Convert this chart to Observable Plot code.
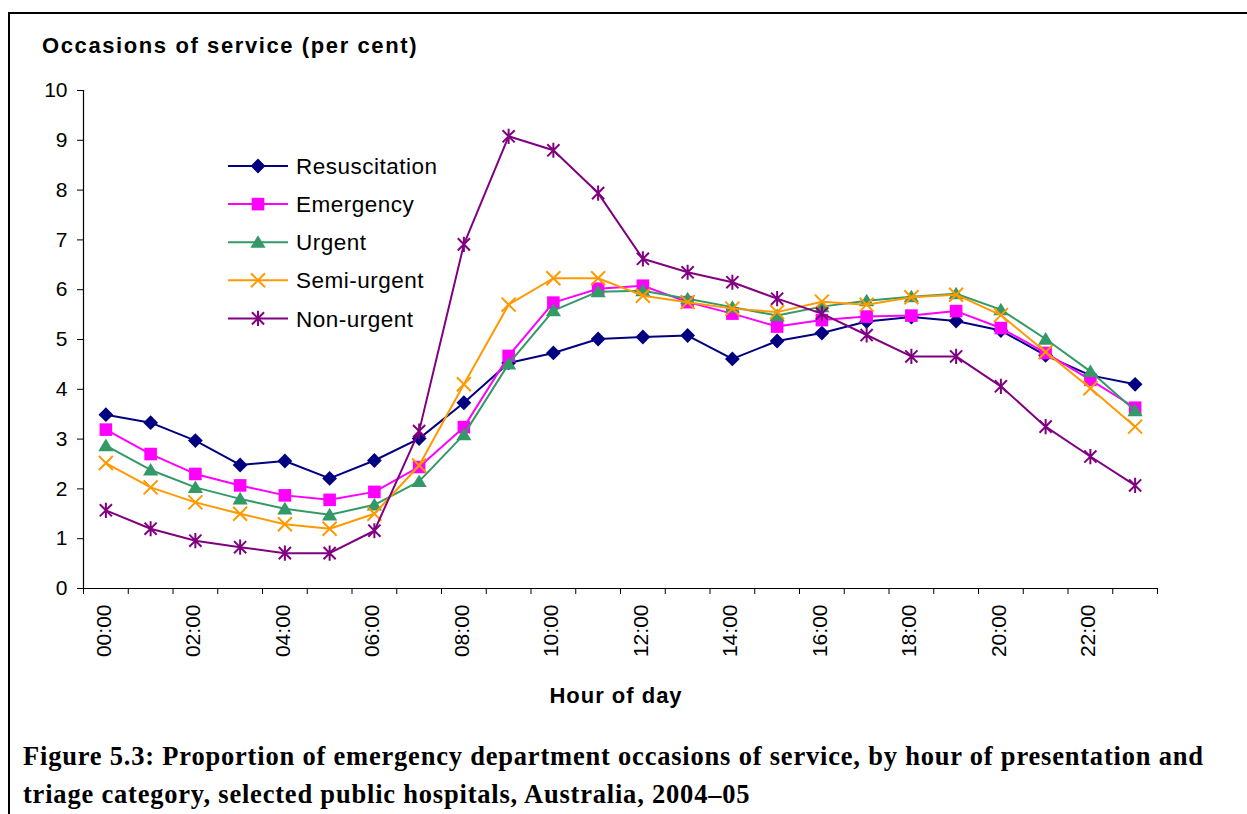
<!DOCTYPE html>
<html><head><meta charset="utf-8">
<script src="https://cdn.jsdelivr.net/npm/d3@7"></script>
<script src="https://cdn.jsdelivr.net/npm/@observablehq/plot@0.6"></script>
<style>
html,body{margin:0;padding:0;background:#fff;}
#wrap{position:relative;width:1247px;height:814px;overflow:hidden;font-family:"Liberation Sans",Arial,sans-serif;}
#chart{position:absolute;left:0;top:0;}
.ov{position:absolute;left:0;top:0;pointer-events:none;}
</style></head><body><div id="wrap"><div id="chart"></div></div>
<script>
// ---- data ----
const hours = ["00:00","01:00","02:00","03:00","04:00","05:00","06:00","07:00","08:00","09:00","10:00","11:00",
               "12:00","13:00","14:00","15:00","16:00","17:00","18:00","19:00","20:00","21:00","22:00","23:00"];
const seriesNames = ["Resuscitation","Emergency","Urgent","Semi-urgent","Non-urgent"];
const resuscitation = [3.49,3.33,2.97,2.48,2.56,2.21,2.57,3.01,3.73,4.53,4.73,5.01,5.05,5.08,4.61,4.97,5.13,5.36,5.45,5.37,5.18,4.68,4.28,4.10];
const emergency     = [3.19,2.70,2.30,2.07,1.87,1.78,1.94,2.44,3.24,4.67,5.74,6.02,6.08,5.75,5.52,5.26,5.39,5.46,5.48,5.57,5.23,4.73,4.19,3.63];
const urgent        = [2.87,2.38,2.03,1.80,1.60,1.48,1.68,2.15,3.09,4.51,5.58,5.96,5.98,5.82,5.65,5.48,5.66,5.78,5.86,5.92,5.60,5.01,4.36,3.57];
const semiUrgent    = [2.52,2.03,1.73,1.50,1.29,1.20,1.50,2.47,4.10,5.70,6.23,6.23,5.88,5.75,5.62,5.55,5.76,5.70,5.85,5.90,5.49,4.75,4.02,3.25];
const nonUrgent     = [1.57,1.20,0.96,0.83,0.71,0.71,1.16,3.16,6.91,9.08,8.80,7.94,6.62,6.35,6.15,5.82,5.52,5.09,4.66,4.66,4.06,3.25,2.65,2.07];
const yTicks = [0,1,2,3,4,5,6,7,8,9,10];
const labelHours = ["00:00","02:00","04:00","06:00","08:00","10:00","12:00","14:00","16:00","18:00","20:00","22:00"];
const colors = ["#000080","#FF00FF","#339966","#FF9900","#800080"];

// ---- symbols ----
const rad = s => Math.sqrt(s / Math.PI);
const diamondSym = {draw(c, s){const r = rad(s); c.moveTo(0,-r); c.lineTo(r,0); c.lineTo(0,r); c.lineTo(-r,0); c.closePath();}};
const squareSym = {draw(c, s){const r = rad(s); c.rect(-r,-r,2*r,2*r);}};
const triangleSym = {draw(c, s){const r = rad(s); c.moveTo(0,-0.92*r); c.lineTo(r,0.74*r); c.lineTo(-r,0.74*r); c.closePath();}};
const timesSym = {draw(c, s){const r = rad(s); c.moveTo(-r,-r); c.lineTo(r,r); c.moveTo(-r,r); c.lineTo(r,-r);}};
const asteriskSym = {draw(c, s){const r = rad(s); const d = r*0.8; c.moveTo(-d,-d); c.lineTo(d,d); c.moveTo(-d,d); c.lineTo(d,-d); c.moveTo(0,-r); c.lineTo(0,r);}};

const styles = [
  {symbol: diamondSym, r: 7.4, filled: true},
  {symbol: squareSym, r: 6.3, filled: true},
  {symbol: triangleSym, r: 7.6, filled: true},
  {symbol: timesSym, r: 7, filled: false},
  {symbol: asteriskSym, r: 7.6, filled: false}
];

const valuesBySeries = [resuscitation, emergency, urgent, semiUrgent, nonUrgent];
const rows = seriesNames.map((name, k) => valuesBySeries[k].map((v, i) => ({name, hour: hours[i], idx: i, value: v})));

const marks = [
  Plot.ruleY([0], {stroke: "#000", strokeWidth: 1.2}),
  Plot.ruleX([0], {stroke: "#000", strokeWidth: 1.2}),
  Plot.axisY({ticks: yTicks, tickSize: 6, tickPadding: 10, label: null, tickFormat: d => String(d)}),
  Plot.axisX({ticks: d3.range(0, hours.length + 1), tickSize: 6, tickFormat: () => "", label: null}),
  Plot.axisX({ticks: labelHours.map(h => hours.indexOf(h) + 0.5), tickSize: 0, tickPadding: 16, rotate: -90,
              textAnchor: "end", dx: -10, tickFormat: d => hours[Math.round(d - 0.5)], label: null})
];
rows.forEach((data, k) => {
  const st = styles[k];
  marks.push(Plot.line(data, {x: d => d.idx + 0.5, y: "value", stroke: colors[k], strokeWidth: 2}));
  marks.push(Plot.dot(data, {x: d => d.idx + 0.5, y: "value", symbol: st.symbol, r: st.r,
    fill: st.filled ? colors[k] : "none", stroke: st.filled ? "none" : colors[k], strokeWidth: 2}));
});

const chart = Plot.plot({
  width: 1247, height: 720,
  marginLeft: 83, marginRight: 90, marginTop: 90, marginBottom: 132,
  x: {domain: [0, 24], axis: null},
  y: {domain: [0, 10], axis: null},
  style: {fontFamily: "'Liberation Sans', Arial, sans-serif", fontSize: "21px", color: "#000", background: "transparent", overflow: "visible"},
  marks
});
document.getElementById("chart").appendChild(chart);

// ---- overlay: frame, titles, legend, caption ----
const ov = d3.select("#wrap").append("svg").attr("class", "ov").attr("width", 1247).attr("height", 814);
ov.append("rect").attr("x", 8).attr("y", 12).attr("width", 1260).attr("height", 2).attr("fill", "#000");
ov.append("rect").attr("x", 8).attr("y", 12).attr("width", 2).attr("height", 820).attr("fill", "#000");

ov.append("text").attr("x", 42).attr("y", 53).attr("font-family", "'Liberation Sans', Arial, sans-serif")
  .attr("font-weight", "bold").attr("font-size", 22).attr("letter-spacing", 1.6).text("Occasions of service (per cent)");
ov.append("text").attr("x", 616).attr("y", 703).attr("text-anchor", "middle").attr("font-family", "'Liberation Sans', Arial, sans-serif")
  .attr("font-weight", "bold").attr("font-size", 22).attr("letter-spacing", 1).text("Hour of day");

const lg = ov.append("g");
seriesNames.forEach((name, k) => {
  const y = 166 + k * 38.1;
  const st = styles[k];
  lg.append("line").attr("x1", 228).attr("x2", 288).attr("y1", y).attr("y2", y).attr("stroke", colors[k]).attr("stroke-width", 2);
  lg.append("path").attr("transform", `translate(258,${y})`).attr("d", d3.symbol(st.symbol, Math.PI * st.r * st.r)())
    .attr("fill", st.filled ? colors[k] : "none").attr("stroke", st.filled ? "none" : colors[k]).attr("stroke-width", 2);
  lg.append("text").attr("x", 296).attr("y", y).attr("dy", "0.36em").attr("font-family", "'Liberation Sans', Arial, sans-serif")
    .attr("font-size", 22.5).attr("letter-spacing", 0.5).text(name);
});

const capFont = "'Liberation Serif', 'Times New Roman', serif";
const cap1 = ov.append("text").attr("x", 23).attr("y", 765).attr("font-family", capFont)
  .attr("font-weight", "bold").attr("font-size", 26.5)
  .text("Figure 5.3: Proportion of emergency department occasions of service, by hour of presentation and");
const cap2 = ov.append("text").attr("x", 23).attr("y", 803).attr("font-family", capFont)
  .attr("font-weight", "bold").attr("font-size", 26.5)
  .text("triage category, selected public hospitals, Australia, 2004\u201305");
const w1 = cap1.node().getComputedTextLength();
const n1 = cap1.text().length;
const ls = Math.max(0, (1180 - w1) / (n1 - 1));
cap1.attr("letter-spacing", ls);
cap2.attr("letter-spacing", ls);
</script></body></html>
